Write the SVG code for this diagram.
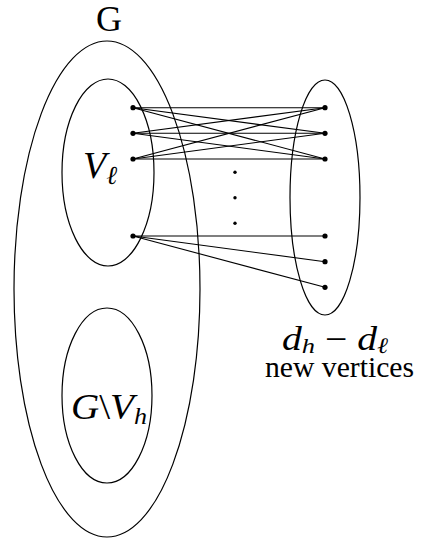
<svg xmlns="http://www.w3.org/2000/svg" width="421" height="540" viewBox="0 0 421 540">
<style>
.set{fill:none;stroke:#000;stroke-width:1.2}
.e{stroke:#000;stroke-width:1.1}
.v{fill:#000}
.t{font-family:"Liberation Serif","Times New Roman",serif;fill:#000}
.i{font-style:italic}
</style>
<rect width="421" height="540" fill="#fff"/>
<g id="G">
<ellipse class="set" cx="107" cy="289" rx="93" ry="248"/>
<text class="t" x="109" y="31" font-size="36" text-anchor="middle">G</text>
</g>
<g id="Vl">
<ellipse class="set" cx="108" cy="172.5" rx="46" ry="93.5"/>
<text class="t i" x="83" y="178" font-size="38">V<tspan font-size="26" dy="6">ℓ</tspan></text>
</g>
<g id="GVh">
<ellipse class="set" cx="107" cy="395.5" rx="45" ry="87.5"/>
<text class="t" x="71" y="419" font-size="36" textLength="76" lengthAdjust="spacingAndGlyphs"><tspan class="i">G</tspan>\<tspan class="i">V</tspan><tspan class="i" font-size="24" dy="5">h</tspan></text>
</g>
<g id="new">
<ellipse class="set" cx="325" cy="197.5" rx="35" ry="117.5"/>
<text class="t" x="282" y="350" font-size="33" textLength="106" lengthAdjust="spacingAndGlyphs"><tspan class="i">d</tspan><tspan class="i" font-size="22" dy="3">h</tspan><tspan dy="-3"> − </tspan><tspan class="i">d</tspan><tspan class="i" font-size="22" dy="3">ℓ</tspan></text>
<text class="t" x="265" y="377" font-size="30" textLength="149" lengthAdjust="spacingAndGlyphs">new vertices</text>
</g>
<g id="connectors">
<line class="e" x1="133" y1="107.7" x2="325" y2="107.7"/>
<line class="e" x1="133" y1="107.7" x2="325" y2="133.3"/>
<line class="e" x1="133" y1="107.7" x2="325" y2="159"/>
<line class="e" x1="133" y1="133.3" x2="325" y2="107.7"/>
<line class="e" x1="133" y1="133.3" x2="325" y2="133.3"/>
<line class="e" x1="133" y1="133.3" x2="325" y2="159"/>
<line class="e" x1="133" y1="159" x2="325" y2="107.7"/>
<line class="e" x1="133" y1="159" x2="325" y2="133.3"/>
<line class="e" x1="133" y1="159" x2="325" y2="159"/>
<line class="e" x1="133" y1="236" x2="325" y2="236"/>
<line class="e" x1="133" y1="236" x2="325" y2="261.7"/>
<line class="e" x1="133" y1="236" x2="325" y2="287.3"/>
</g>
<g id="vertices">
<circle class="v" cx="133" cy="107.7" r="2.6"/>
<circle class="v" cx="133" cy="133.3" r="2.6"/>
<circle class="v" cx="133" cy="159" r="2.6"/>
<circle class="v" cx="133" cy="236" r="2.6"/>
<circle class="v" cx="325" cy="107.7" r="2.6"/>
<circle class="v" cx="325" cy="133.3" r="2.6"/>
<circle class="v" cx="325" cy="159" r="2.6"/>
<circle class="v" cx="325" cy="236" r="2.6"/>
<circle class="v" cx="325" cy="261.7" r="2.6"/>
<circle class="v" cx="325" cy="287.3" r="2.6"/>
<circle class="v" cx="235" cy="172.3" r="1.7"/>
<circle class="v" cx="235" cy="197.7" r="1.7"/>
<circle class="v" cx="235" cy="223.3" r="1.7"/>
</g>
</svg>
